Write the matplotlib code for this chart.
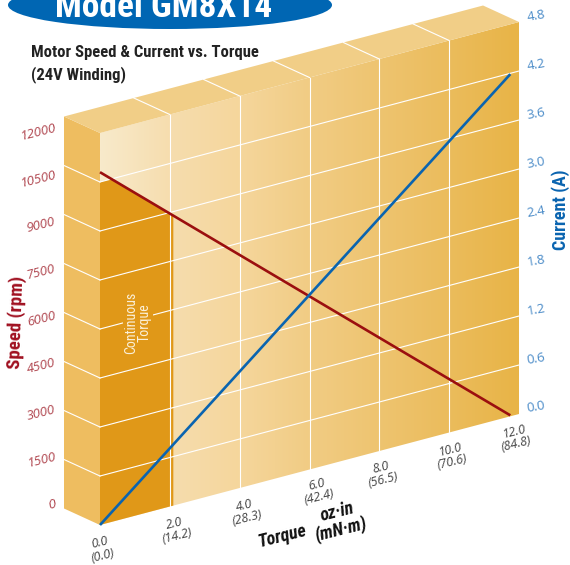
import matplotlib
matplotlib.use("Agg")
import matplotlib.pyplot as plt
from matplotlib.colors import LinearSegmentedColormap
from matplotlib.patches import Ellipse, Polygon
from matplotlib.transforms import Affine2D
import numpy as np

# data
torque_ticks = [0, 2, 4, 6, 8, 10, 12]
torque_oz = ["0.0", "2.0", "4.0", "6.0", "8.0", "10.0", "12.0"]
torque_mnm = ["(0.0)", "(14.2)", "(28.3)", "(42.4)", "(56.5)", "(70.6)", "(84.8)"]
speed_ticks = [0, 1500, 3000, 4500, 6000, 7500, 9000, 10500, 12000]
current_ticks = ["0.0", "0.6", "1.2", "1.8", "2.4", "3.0", "3.6", "4.2", "4.8"]
line_torque = [0, 11.75]
line_speed = [10800, 30]
line_current = [0, 4.19]
continuous_limit = 2.1

narrow = ["Roboto Condensed", "Liberation Sans"]
plt.rcParams["font.family"] = ["Open Sans", "DejaVu Sans"]

fig = plt.figure(figsize=(5.7, 5.65), dpi=100)
ax = fig.add_axes([0, 0, 1, 1])
ax.set_xlim(0, 570)
ax.set_ylim(565, 0)
ax.axis("off")

# skewed box: torque to the right, speed/current up
front = Affine2D.from_values(34.92, -9.25, 0, -49 / 1500, 100, 525)
amps = Affine2D.from_values(34.92, -9.25, 0, -49 / 0.6, 100, 525)
tf_front = front + ax.transData
tf_amps = amps + ax.transData
dx, dy = -36, -16.5

# front face gradient
face = Polygon([(0, 0), (12, 0), (12, 12000), (0, 12000)], transform=tf_front,
               fc="none", ec="none")
ax.add_patch(face)
cmap = LinearSegmentedColormap.from_list("face", ["#F8EACB", "#F6DDAE", "#F5D69C", "#F1CC84",
                                                  "#EEC470", "#EBBC5C", "#E8B447"])
im = ax.imshow(np.linspace(0, 1, 256).reshape(1, -1), cmap=cmap, aspect="auto",
               extent=(100, 519, 565, 0), zorder=1)
im.set_clip_path(face)
ax.set_xlim(0, 570)
ax.set_ylim(565, 0)

# left side and top
corner = front.transform([(0, 0), (0, 12000), (12, 12000)])
left_xy = [corner[0], corner[1], corner[1] + (dx, dy), corner[0] + (dx, dy)]
top_xy = [corner[1], corner[2], corner[2] + (dx, dy), corner[1] + (dx, dy)]
ax.add_patch(Polygon(left_xy, fc="#EEBD60", ec="none", zorder=1))
ax.add_patch(Polygon(top_xy, fc="#F1CE87", ec="none", zorder=1))

# continuous torque zone, its top runs along the 10500 line then the speed line
t_cross = np.interp(10500, line_speed[::-1], line_torque[::-1])
s_limit = np.interp(continuous_limit, line_torque, line_speed)
ax.add_patch(Polygon([(0, 0), (continuous_limit, 0), (continuous_limit, s_limit),
                      (t_cross, 10500), (0, 10500)],
                     fc="#E09818", ec="none", zorder=2, transform=tf_front))

# grid
for v in speed_ticks[1:-1]:
    ax.plot([0, 12], [v, v], color="white", lw=0.8, transform=tf_front, zorder=3)
    a = front.transform((0, v))
    ax.plot([a[0] + dx, a[0]], [a[1] + dy, a[1]], color="white", lw=0.8, zorder=3)
for t in torque_ticks[1:-1]:
    ax.plot([t, t], [0, 12000], color="white", lw=0.8, transform=tf_front, zorder=3)
    a = front.transform((t, 12000))
    ax.plot([a[0] + dx, a[0]], [a[1] + dy, a[1]], color="white", lw=0.8, zorder=3)

# curves
ax.plot(line_torque, line_speed, color="#9B0F0F", lw=1.9, transform=tf_front, zorder=5,
        solid_capstyle="butt")
ax.plot(line_torque, line_current, color="#0A64B0", lw=1.9, transform=tf_amps, zorder=6,
        solid_capstyle="butt")

# tick labels
for i, v in enumerate(speed_ticks):
    ax.text(55, 504 - i * 47, str(v), color="#B0464F", fontsize=9.5, style="italic",
            rotation=14, ha="right", va="center", rotation_mode="anchor", zorder=7)
for i, s in enumerate(current_ticks):
    ax.text(527, 409 - i * 48.9, s, color="#4A8BC8", fontsize=9.5,
            rotation=10, ha="left", va="center", rotation_mode="anchor", zorder=7)
label_xy = [(101, 549), (176, 530), (246, 512), (318, 491), (382, 474), (451, 456), (515, 438)]
for (x, y), oz, mnm in zip(label_xy, torque_oz, torque_mnm):
    ax.text(x, y, oz + "\n" + mnm, color="#444444", fontsize=9, style="italic", rotation=14,
            ha="center", va="center", ma="center", linespacing=1.0, rotation_mode="anchor", zorder=7)

# titles
ax.add_patch(Ellipse((170, 5), 324, 48, fc="#0066B3", ec="none", zorder=7))
ax.text(164, 17, "Model GM8X14", color="white", fontsize=25.5, fontweight="bold", family=narrow,
        ha="center", va="baseline", zorder=8)
ax.text(31, 53, "Motor Speed & Current vs. Torque", color="#222222", fontsize=12, fontweight="bold",
        family=narrow, ha="left", va="center", zorder=8)
ax.text(31, 75, "(24V Winding)", color="#222222", fontsize=12, fontweight="bold",
        family=narrow, ha="left", va="center", zorder=8)
ax.text(16, 322, "Speed (rpm)", color="#A01020", fontsize=13.5, fontweight="bold", family=narrow,
        rotation=88, ha="center", va="center", zorder=8)
ax.text(561, 210, "Current (A)", color="#0A64B0", fontsize=13, fontweight="bold", family=narrow,
        rotation=90, ha="center", va="center", zorder=8)
ax.text(282, 536, "Torque", color="#111111", fontsize=13, fontweight="bold", style="italic", family=narrow,
        rotation=14, ha="center", va="center", rotation_mode="anchor", zorder=8)
ax.text(339, 521, "oz·in\n(mN·m)", color="#111111", fontsize=13, fontweight="bold", style="italic",
        family=narrow, rotation=14, ha="center", va="center", ma="center", linespacing=0.95,
        rotation_mode="anchor", zorder=8)
ax.text(138, 323, "Continuous\nTorque", color="#FBF0D8", fontsize=10, family=narrow, rotation=90,
        ha="center", va="center", ma="center", linespacing=1.0, zorder=8,
        bbox=dict(fc="#E09818", ec="none", pad=1))

fig.savefig("out.png", dpi=100)
